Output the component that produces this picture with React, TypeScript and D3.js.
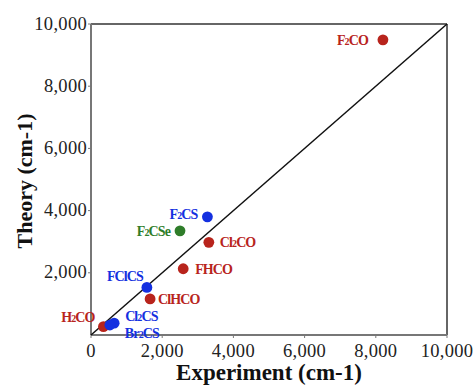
import * as d3 from "d3";

// molecule data (cm-1)
const molecules = ["F2CO", "F2CS", "F2CSe", "Cl2CO", "FHCO", "FClCS", "ClHCO", "H2CO", "Cl2CS", "Br2CS"];
const experiment = [8200, 3270, 2500, 3310, 2590, 1570, 1660, 350, 650, 530];
const theory = [9490, 3800, 3350, 2980, 2130, 1530, 1160, 270, 380, 320];
const groups = ["O", "S", "Se", "O", "O", "S", "O", "O", "S", "S"];
const ticks = [0, 2000, 4000, 6000, 8000, 10000];

const groupColor: Record<string, string> = {
  O: "#b8241c",
  S: "#1430e0",
  Se: "#2f7d2a",
};

// label placement relative to each dot: [dx, dy, anchor]
const labelPlace: [number, number, "start" | "end"][] = [
  [-15, 5, "end"],
  [-10, 2, "end"],
  [-10, 5, "end"],
  [11, 5, "start"],
  [12, 5, "start"],
  [-4, -6, "end"],
  [8, 5, "start"],
  [-9, -5, "end"],
  [11, -2, "start"],
  [15, 13, "start"],
];

const W = 474;
const H = 386;
const margin = { top: 24, right: 27, bottom: 51, left: 91 };
const serif = "Liberation Serif, Times New Roman, Times, serif";

function Formula({ name }: { name: string }) {
  const parts = name.match(/\d+|\D+/g) ?? [];
  return (
    <>
      {parts.map((p, i) =>
        /\d/.test(p) ? (
          <tspan key={i} style={{ fontSize: 10 }}>
            {p}
          </tspan>
        ) : (
          <tspan key={i}>{p}</tspan>
        )
      )}
    </>
  );
}

export default function App() {
  const innerW = W - margin.left - margin.right;
  const innerH = H - margin.top - margin.bottom;
  const x = d3.scaleLinear().domain([0, 10000]).range([0, innerW]);
  const y = d3.scaleLinear().domain([0, 10000]).range([innerH, 0]);
  const fmt = d3.format(",");
  const tickStyle = { fontSize: 18.5, fontFamily: serif, letterSpacing: 0.3 };

  return (
    <svg
      width={W}
      height={H}
      style={{ position: "absolute", left: 0, top: 0, background: "#fff", fontFamily: serif }}
    >
      <g transform={`translate(${margin.left},${margin.top})`}>
        {/* top and right frame */}
        <line x1={0} y1={0} x2={x(10000)} y2={0} stroke="#333" strokeWidth={1.5} />
        <line x1={x(10000)} y1={0} x2={x(10000)} y2={innerH} stroke="#333" strokeWidth={1.5} />
        {/* axes */}
        <line x1={0} y1={innerH} x2={innerW} y2={innerH} stroke="#777" strokeWidth={2} />
        <line x1={0} y1={0} x2={0} y2={innerH} stroke="#777" strokeWidth={2} />
        {ticks.map((t) => (
          <g key={`x${t}`}>
            <line x1={x(t)} x2={x(t)} y1={innerH} y2={innerH + 3} stroke="#777" />
            <text x={x(t)} y={innerH + 22} textAnchor="middle" style={tickStyle} fill="#222">
              {fmt(t)}
            </text>
          </g>
        ))}
        {ticks
          .filter((t) => t > 0)
          .map((t) => (
            <g key={`y${t}`}>
              <line x1={-3} x2={0} y1={y(t)} y2={y(t)} stroke="#777" />
              <text x={-4} y={y(t) + 5.5} textAnchor="end" style={tickStyle} fill="#222">
                {fmt(t)}
              </text>
            </g>
          ))}
        {/* y = x line */}
        <line x1={x(0)} y1={y(0)} x2={x(10000)} y2={y(10000)} stroke="#111" strokeWidth={1.5} />
        {/* points */}
        {molecules.map((m, i) => (
          <circle key={m} cx={x(experiment[i])} cy={y(theory[i])} r={5.4} fill={groupColor[groups[i]]} />
        ))}
        {molecules.map((m, i) => {
          const [dx, dy, anchor] = labelPlace[i];
          return (
            <text
              key={`l${m}`}
              x={x(experiment[i]) + dx}
              y={y(theory[i]) + dy}
              textAnchor={anchor}
              style={{ fontSize: 14, fontWeight: "bold", letterSpacing: -0.9, fontFamily: serif }}
              fill={groupColor[groups[i]]}
            >
              <Formula name={m} />
            </text>
          );
        })}
      </g>
      <text
        x={269}
        y={380}
        textAnchor="middle"
        style={{ fontSize: 23, fontWeight: "bold", fontFamily: serif }}
        fill="#111"
      >
        Experiment (cm-1)
      </text>
      <text
        transform={`translate(32,181) rotate(-90)`}
        textAnchor="middle"
        style={{ fontSize: 22, fontWeight: "bold", fontFamily: serif }}
        fill="#111"
      >
        Theory (cm-1)
      </text>
    </svg>
  );
}
